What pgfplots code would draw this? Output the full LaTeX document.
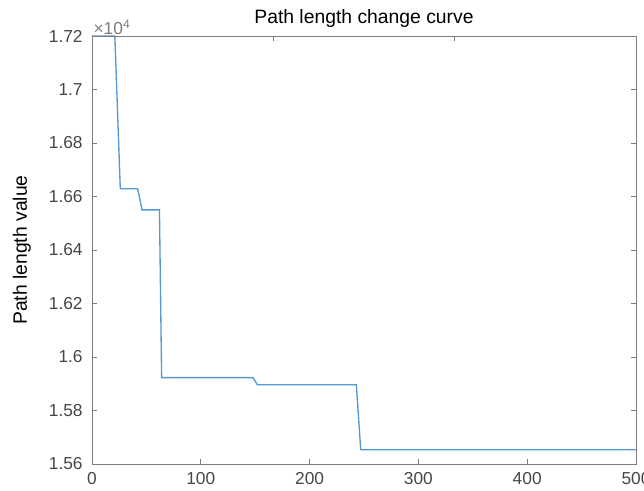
\documentclass[border=0pt]{standalone}
\usepackage{pgfplots}
\pgfplotsset{compat=1.18}
\usepackage{fontspec}
\setmainfont{Liberation Sans}

\definecolor{lineblue}{RGB}{84,152,214}
\definecolor{axgray}{RGB}{125,125,125}
\definecolor{labgray}{RGB}{70,70,70}

\begin{document}
\begin{tikzpicture}
% fix the page to the reference frame (1px = 0.75pt)
\useasboundingbox (-69pt,-20.25pt) rectangle (414pt,348pt);
\begin{axis}[
    at={(0,0)}, anchor=south west,
    scale only axis,
    width=408pt, height=321pt,
    clip mode=individual,
    xmin=0, xmax=500,
    ymin=15600, ymax=17200,
    xtick={0,100,...,500},
    ytick={15600,15800,...,17200},
    yticklabels={1.56,1.58,1.6,1.62,1.64,1.66,1.68,1.7,1.72},
    scaled y ticks=false,
    /pgf/number format/assume math mode=true,
    tick align=inside,
    xtick pos=bottom,
    ytick pos=both,
    major tick length=4pt,
    axis line style={axgray, line width=0.6pt},
    every tick/.style={axgray, line width=0.6pt},
    tick label style={font=\fontsize{13}{15}\selectfont, text=labgray},
    xticklabel style={yshift=-3pt},
    yticklabel style={xshift=-3.5pt},
    ylabel={Path length value},
    ylabel style={at={(rel axis cs:-0.1287,0.5)}, anchor=center,
        font=\fontsize{14.5}{16}\selectfont},
    title={Path length change curve},
    title style={at={(rel axis cs:0.5,1)}, anchor=base, yshift=3.5pt,
        font=\fontsize{14.5}{16}\selectfont},
]
\addplot[lineblue, line width=1pt] coordinates {
    (0,17200) (21,17200) (26,16629) (42,16629) (46,16550)
    (62,16550) (64,15923) (148,15923) (152,15896)
    (243,15896) (247,15653) (500,15653)
};
\node[anchor=south west, inner sep=1pt, text=axgray, font=\fontsize{13}{15}\selectfont]
    at (rel axis cs:0,1) {×10\textsuperscript{4}};
\end{axis}
% top-edge ticks at thirds, as in the reference
\begin{axis}[
    at={(0,0)}, anchor=south west,
    scale only axis,
    width=408pt, height=321pt,
    xmin=0, xmax=500, ymin=0, ymax=1,
    axis x line*=top, hide y axis,
    xtick={166.67,333.33}, xticklabels={},
    tick align=inside, major tick length=4pt,
    axis line style={axgray, line width=0.6pt},
    every tick/.style={axgray, line width=0.6pt},
]
\end{axis}
\end{tikzpicture}
\end{document}
